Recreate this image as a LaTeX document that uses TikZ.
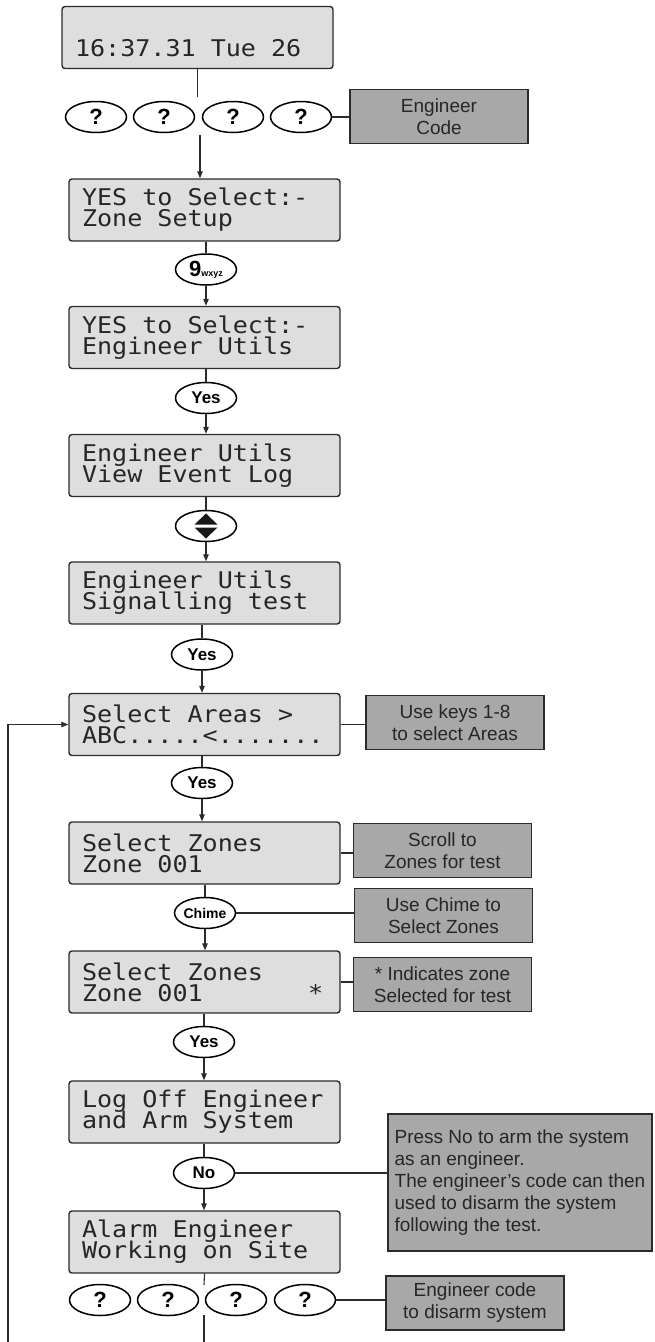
\documentclass[tikz,border=0pt]{standalone}
\usepackage{fontspec}
\setmainfont{Liberation Sans}
\newfontfamily\lcdfont{DejaVu Sans Mono}[FakeStretch=1.09]
\usetikzlibrary{shapes.geometric,arrows.meta}
\definecolor{lcdgray}{HTML}{DEDEDE}
\definecolor{notegray}{HTML}{A8A8A8}
\definecolor{edge}{HTML}{2B2B2B}
\newcommand\lcdsize{\lcdfont\fontsize{23}{21}\selectfont\lineskiplimit=-30pt\relax}
\tikzset{
  lcd/.style={draw=edge, line width=1.4pt, fill=lcdgray, rounded corners=3pt,
    minimum width=271pt, minimum height=62pt, inner xsep=13pt, text width=245pt,
    align=left, font=\lcdsize, text=black!85,
    execute at begin node={\spaceskip=15.05pt\xspaceskip=15.05pt\relax}},
  note/.style={draw=edge, line width=1.3pt, fill=notegray, minimum width=178pt,
    minimum height=54pt, align=center, text=black!85,
    font={\fontsize{19}{22}\selectfont\lineskiplimit=-30pt\relax}},
  key/.style={ellipse, draw=black, line width=1.5pt, fill=white, minimum width=61pt,
    minimum height=31pt, inner sep=0pt, font=\bfseries\fontsize{17}{17}\selectfont},
  qkey/.style={key, font=\bfseries\fontsize{22}{22}\selectfont},
  link/.style={draw=edge, line width=1.1pt},
  arr/.style={link, -{Triangle[length=7pt,width=5.5pt]}}
}
\begin{document}
\begin{tikzpicture}[x=1pt, y=-1pt]
\useasboundingbox (0,0) rectangle (654,1342);
% keypad displays:
\node[lcd] (clock) at (197.5,37.5) {\rule{0pt}{18pt}\\16:37.31 Tue 26};
\node[lcd] (zonesetup) at (204.5,210) {YES to Select:-\\Zone Setup};
\node[lcd] (engutils) at (204.5,337.5) {YES to Select:-\\Engineer Utils};
\node[lcd] (eventlog) at (204.5,465.5) {Engineer Utils\\View Event Log};
\node[lcd] (sigtest) at (204.5,593) {Engineer Utils\\Signalling test};
\node[lcd] (areas) at (204.5,724.5) {Select Areas >\\ABC.....<.......};
\node[lcd] (zones) at (204.5,853) {Select Zones\\Zone 001};
\node[lcd] (zonesel) at (204.5,982) {Select Zones\\Zone 001~~~~~~~*};
\node[lcd] (logoff) at (204.5,1112) {Log Off Engineer\\and Arm System};
\node[lcd] (working) at (204.5,1242) {Alarm Engineer\\Working on Site};
% keys:
\foreach \k [count=\i] in {96,164,233,301} \node[qkey] (code\i) at (\k,117) {?};
\foreach \k [count=\i] in {100,168,236,305} \node[qkey] (dcode\i) at (\k,1300) {?};
\node[key] (key9) at (206,269.5) {{\fontsize{22}{22}\selectfont 9}{\fontsize{9}{9}\selectfont wxyz}};
\node[key] (yes1) at (206,398) {Yes};
\node[key] (updown) at (206,526) {};
\fill[black!90, shift={(updown.center)}] (-11.5,-1.5) -- (11.5,-1.5) -- (0,-12.5) -- cycle
  (-11.5,1.5) -- (11.5,1.5) -- (0,12.5) -- cycle;
\node[key] (yes2) at (202,654.5) {Yes};
\node[key] (yes3) at (202,783) {Yes};
\node[key, font=\bfseries\fontsize{14}{14}\selectfont] (chime) at (205,913) {Chime};
\node[key] (yes4) at (204,1042) {Yes};
\node[key] (no) at (204,1173) {No};
% notes:
\node[note] (engcode) at (439,116.5) {Engineer\\Code};
\node[note] (usekeys) at (455,722.5) {Use keys 1-8\\to select Areas};
\node[note] (scroll) at (442.5,850.5) {Scroll to\\Zones for test};
\node[note] (usechime) at (443.5,915.5) {Use Chime to\\Select Zones};
\node[note] (indicates) at (442.5,984.5) {* Indicates zone\\Selected for test};
\node[note, align=left, minimum width=264pt, minimum height=137pt] (pressno) at (520,1182.5)
  {Press No to arm the system\\as an engineer.\\The engineer's code can then\\used to disarm the system\\following the test.};
\node[note] (disarm) at (475,1303) {Engineer code\\to disarm system};
% connectors:
\coordinate (gap1) at (197.5,97);
\coordinate (gap2) at (200,135);
\coordinate (gap3) at (204,1285);
\coordinate (gap4) at (204,1315);
\coordinate (tail) at (204,1342);
\coordinate (loop) at (8,1342);
\draw[link] (clock.south) -- (gap1);
\draw[arr] (gap2) -- (gap2 |- zonesetup.north);
\foreach \a/\b/\c in {zonesetup/key9/engutils, engutils/yes1/eventlog, eventlog/updown/sigtest,
  sigtest/yes2/areas, areas/yes3/zones, zones/chime/zonesel, zonesel/yes4/logoff, logoff/no/working}{
  \draw[link] (\a.south -| \b.north) -- (\b.north);
  \draw[arr] (\b.south) -- (\b.south |- \c.north);
}
\draw[link] (working.south) -- (gap3);
\draw[link] (gap4) -- (tail);
\draw[arr] (loop) |- (areas.west);
% side notes:
\draw[link] (code4.east) -- (code4.east -| engcode.west);
\draw[link] (areas.east) -- (areas.east -| usekeys.west);
\draw[link] (zones.east) -- (zones.east -| scroll.west);
\draw[link] (chime.east) -- (chime.east -| usechime.west);
\draw[link] (zonesel.east) -- (zonesel.east -| indicates.west);
\draw[link] (no.east) -- (no.east -| pressno.west);
\draw[link] (dcode4.east) -- (dcode4.east -| disarm.west);
\end{tikzpicture}
\end{document}
